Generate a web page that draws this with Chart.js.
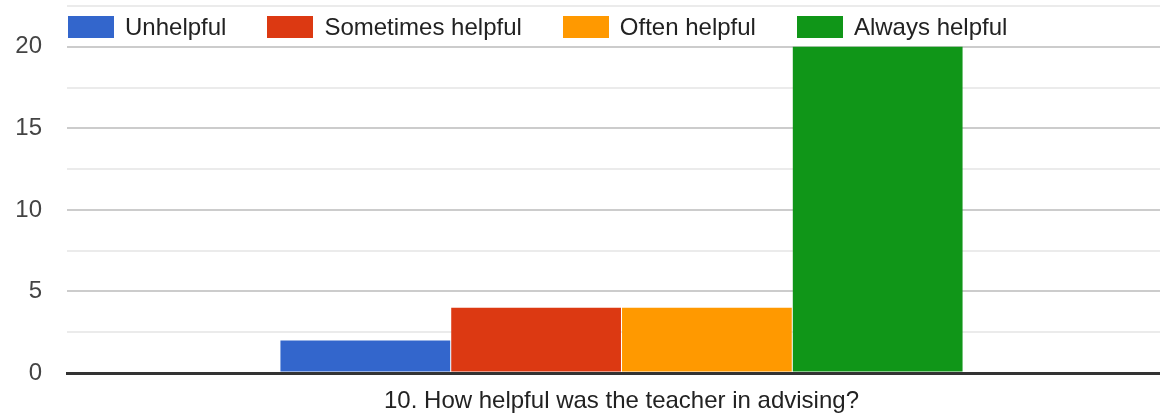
<!DOCTYPE html>
<html>
<head>
<meta charset="utf-8">
<script src="https://cdn.jsdelivr.net/npm/chart.js@4"></script>
<style>
  html, body { margin: 0; padding: 0; background: #fff; overflow: hidden; }
  #wrap { position: relative; width: 1160px; height: 418px; overflow: hidden; }
  #chart { display: block; }
  #legend {
    position: absolute; left: 68px; top: 13px;
    display: flex; align-items: center;
    font-family: Arial, "Liberation Sans", sans-serif; font-size: 24px; color: #222;
  }
  #legend .item { display: flex; align-items: center; margin-right: 41px; white-space: nowrap; }
  #legend .box { width: 46px; height: 22px; margin-right: 11px; }
</style>
</head>
<body>
<div id="wrap">
  <canvas id="chart" width="1176" height="418"></canvas>
  <div id="legend"></div>
</div>
<script>
// Data
const categories = ["10. How helpful was the teacher in advising?"];
const seriesNames = ["Unhelpful", "Sometimes helpful", "Often helpful", "Always helpful"];
const unhelpful = [2];
const sometimesHelpful = [4];
const oftenHelpful = [4];
const alwaysHelpful = [20];
const colors = ["#3366cc", "#dc3912", "#ff9900", "#109618"];

const seriesValues = [unhelpful, sometimesHelpful, oftenHelpful, alwaysHelpful];

Chart.defaults.font.family = 'Arial, "Liberation Sans", sans-serif';
Chart.defaults.font.size = 24;

const chart = new Chart(document.getElementById("chart"), {
  type: "bar",
  data: {
    labels: categories,
    datasets: seriesNames.map((name, i) => ({
      label: name,
      data: seriesValues[i],
      backgroundColor: colors[i],
      borderWidth: 0,
      categoryPercentage: 0.616,
      barPercentage: 0.994
    }))
  },
  options: {
    responsive: false,
    animation: false,
    devicePixelRatio: 1,
    layout: {
      autoPadding: false,
      padding: {left: 16, top: 6, right: 0, bottom: 2}
    },
    plugins: {
      legend: {display: false},
      tooltip: {enabled: false}
    },
    scales: {
      x: {
        z: 1,
        grid: {display: false, drawTicks: false},
        border: {display: true, color: "#333", width: 3},
        ticks: {color: "#222", padding: 14, font: {size: 24}},
        afterFit: s => { s.height = 43; }
      },
      y: {
        min: 0,
        max: 22.5,
        border: {display: false},
        grid: {
          drawTicks: false,
          color: ctx => ctx.tick.value === 0 ? "#333" : (ctx.tick.value % 5 === 0 ? "#cccccc" : "#ebebeb"),
          lineWidth: ctx => ctx.tick.value === 0 ? 3 : 2
        },
        ticks: {
          stepSize: 2.5,
          color: "#444",
          padding: 25,
          font: {size: 24},
          callback: v => v % 5 === 0 ? v : ""
        },
        // keep the axis narrow and let the plot reach the top
        afterFit: s => { s.width = 51; s.paddingTop = 0; s.paddingBottom = 0; }
      }
    }
  }
});

// HTML legend built from the datasets
const legendEl = document.getElementById("legend");
chart.data.datasets.forEach(ds => {
  const item = document.createElement("div");
  item.className = "item";
  const box = document.createElement("span");
  box.className = "box";
  box.style.background = ds.backgroundColor;
  const text = document.createElement("span");
  text.textContent = ds.label;
  item.appendChild(box);
  item.appendChild(text);
  legendEl.appendChild(item);
});
</script>
</body>
</html>
